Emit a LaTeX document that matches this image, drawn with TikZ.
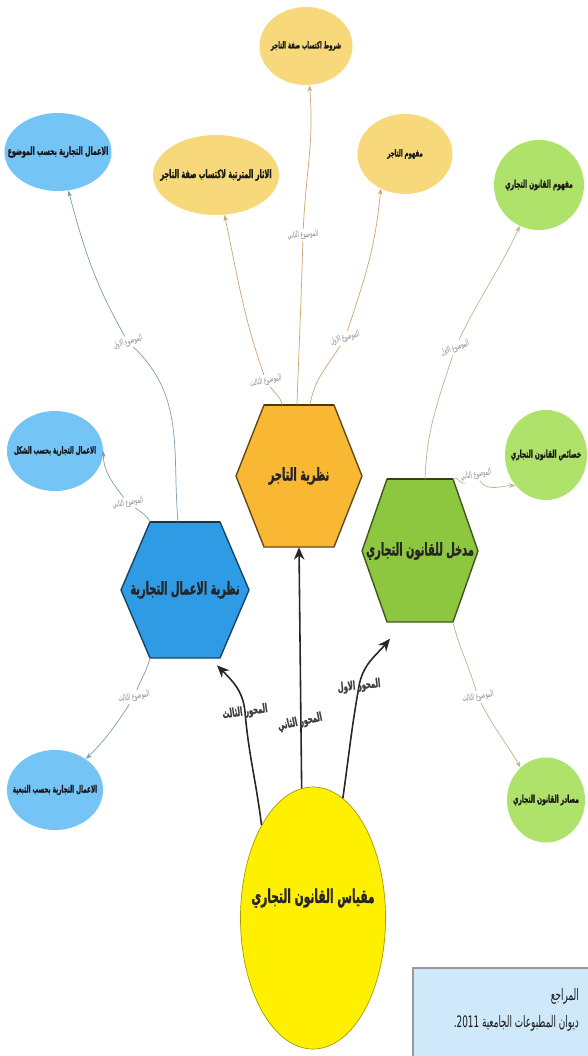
\documentclass[tikz,border=0pt]{standalone}
\usepackage{fontspec}
\usepackage{xcolor}
\usepackage{tikz}
\usetikzlibrary{shapes,arrows.meta,calc}
\newfontfamily\arabicfont[Script=Arabic,FakeStretch=0.56,BoldFeatures={FakeStretch=0.56,FakeBold=1.2}]{DejaVu Sans}
\TeXXeTstate=1
\newcommand{\rtl}[1]{\beginR #1\endR}
\newcommand{\rtlbox}[1]{\makebox[0pt]{\beginR #1\endR}}

\definecolor{hexBlue}{HTML}{2F9BE5}
\definecolor{hexOrange}{HTML}{F9B834}
\definecolor{hexGreen}{HTML}{8DC63F}
\definecolor{leafBlue}{HTML}{74C4F5}
\definecolor{leafYellow}{HTML}{F7D97C}
\definecolor{leafGreen}{HTML}{AEE26B}
\definecolor{lineBlue}{HTML}{7E9CB5}
\definecolor{lineOrange}{HTML}{CFA574}
\definecolor{lineGreen}{HTML}{BDB58C}
\definecolor{moduleYellow}{HTML}{FFF000}
\definecolor{boxBlue}{HTML}{CFE8FA}

\tikzstyle{tsHexText} = [
    text=black!85,
    font=\arabicfont\bfseries\fontsize{10}{12}\selectfont,
    inner sep=0pt
]
\tikzstyle{tsTitle} = [
    tsHexText,
    font=\arabicfont\bfseries\fontsize{10.8}{13}\selectfont
]
\tikzstyle{tsHexBorder} = [
    line width=0.8pt,
    line join=round
]
\tikzstyle{tsLeaf} = [
    ellipse,
    draw=none,
    inner sep=0pt,
    text=black!90,
    font=\arabicfont\bfseries\fontsize{6}{7}\selectfont
]
\tikzstyle{tsTopic} = [
    text=black!45,
    inner sep=0.8pt,
    font=\arabicfont\fontsize{5}{6}\selectfont
]
\tikzstyle{tsAxis} = [
    text=black!75,
    inner sep=0pt,
    font=\arabicfont\bfseries\fontsize{7}{8}\selectfont
]
\tikzstyle{tsRefText} = [
    anchor=east,
    text=black!90,
    font=\arabicfont\fontsize{9}{10}\selectfont
]
\tikzstyle{tsMainArrow} = [
    draw=black!85,
    line width=0.9pt,
    -{Stealth[length=7pt,width=6pt]}
]
\tikzstyle{tsLeafArrow} = [
    line width=0.4pt,
    -{Stealth[length=3.5pt,width=2.6pt]}
]

\begin{document}
\begin{tikzpicture}[x=0.2mm, y=0.2mm]

        \useasboundingbox (0,0) rectangle (588,-1056);
        \fill[white] (0,0) rectangle (588,-1056);
        \clip (0,0) rectangle (588,-1056);

        \filldraw[fill=hexBlue, draw=hexBlue!45!black, tsHexBorder]
            (121,-590) -- (150,-522) -- (220,-522) -- (249,-590) -- (220,-658) -- (150,-658) -- cycle;
        \draw[hexBlue!35!black, line width=1.6pt] (150,-522) -- (220,-522);
        \filldraw[fill=hexOrange, draw=hexOrange!40!black, tsHexBorder]
            (236,-476) -- (264,-405) -- (334,-405) -- (362,-476) -- (334,-547) -- (264,-547) -- cycle;
        \draw[hexOrange!30!black, line width=1.6pt] (264,-405) -- (334,-405);
        \filldraw[fill=hexGreen, draw=hexGreen!45!black, tsHexBorder]
            (362,-551) -- (387,-479) -- (453,-479) -- (478,-551) -- (453,-622) -- (387,-622) -- cycle;
        \draw[hexGreen!35!black, line width=1.6pt] (387,-479) -- (453,-479);

        \node[tsHexText, minimum width=25.6mm, minimum height=27.2mm] (acts) at (185,-590) {\rtl{نظرية الاعمال التجارية}};
        \node[tsHexText, minimum width=25.2mm, minimum height=28.4mm] (trader) at (299,-476) {\rtl{نظرية التاجر}};
        \node[tsHexText, minimum width=23.2mm, minimum height=28.6mm] (intro) at (420,-551) {\rtl{مدخل للقانون التجاري}};

        \node[  ellipse,
                fill=moduleYellow,
                draw=moduleYellow!65!black,
                line width=0.4pt,
                minimum width=29mm,
                minimum height=52.4mm,
                inner sep=0pt] (module) at (313,-918) { };
        \node[tsTitle] (moduletitle) at (313,-898) {\rtl{مقياس القانون التجاري}};

        \node[tsLeaf, fill=leafBlue, minimum width=21.4mm, minimum height=15.6mm] (bysubject) at (58,-152) {\fontsize{6.4}{7}\selectfont\rtlbox{الاعمال التجارية بحسب الموضوع}};
        \node[tsLeaf, fill=leafBlue, minimum width=19.2mm, minimum height=16mm] (byform) at (55,-451) {\fontsize{5.6}{7}\selectfont\rtlbox{الاعمال التجارية بحسب الشكل}};
        \node[tsLeaf, fill=leafBlue, minimum width=19.2mm, minimum height=16mm] (bydependence) at (55,-790) {\fontsize{5.8}{7}\selectfont\rtlbox{الاعمال التجارية بحسب التبعية}};
        \node[tsLeaf, fill=leafYellow, minimum width=18.6mm, minimum height=15.6mm] (conditions) at (306,-46) {\fontsize{5.4}{7}\selectfont\rtlbox{شروط اكتساب صفة التاجر}};
        \node[tsLeaf, fill=leafYellow, minimum width=25.2mm, minimum height=16mm] (effects) at (216,-175) {\fontsize{6.7}{7}\selectfont\rtlbox{الاثار المترتبة لاكتساب صفة التاجر}};
        \node[tsLeaf, fill=leafYellow, minimum width=19mm, minimum height=16mm] (traderconcept) at (405,-154) {\fontsize{5.5}{7}\selectfont\rtlbox{مفهوم التاجر}};
        \node[tsLeaf, fill=leafGreen, minimum width=18mm, minimum height=18mm] (lawconcept) at (539,-185) {\rtlbox{مفهوم القانون التجاري}};
        \node[tsLeaf, fill=leafGreen, minimum width=16.4mm, minimum height=18mm] (features) at (546,-455) {\rtlbox{خصائص القانون التجاري}};
        \node[tsLeaf, fill=leafGreen, minimum width=15.6mm, minimum height=17mm] (sources) at (546,-800) {\rtlbox{مصادر القانون التجاري}};

        \node[tsTopic, rotate=15] (lblsubject) at (128,-342) {\rtl{الموضوع الاول}};
        \node[tsTopic, rotate=10] (lblform) at (128,-503) {\rtl{الموضوع الثاني}};
        \node[tsTopic, rotate=10] (lbldepend) at (134,-697) {\rtl{الموضوع الثالث}};
        \node[tsTopic, rotate=5] (lblcond) at (303,-235) {\rtl{الموضوع الثاني}};
        \node[tsTopic, rotate=12] (lbleffects) at (266,-381) {\rtl{الموضوع الثالث}};
        \node[tsTopic, rotate=15] (lblconcept) at (345,-338) {\rtl{الموضوع الاول}};
        \node[tsTopic, rotate=20] (lbllaw) at (455,-348) {\rtl{الموضوع الاول}};
        \node[tsTopic, rotate=10] (lblfeat) at (476,-475) {\rtl{الموضوع الثاني}};
        \node[tsTopic, rotate=10] (lblsources) at (478,-697) {\rtl{الموضوع الثالث}};

        \draw[tsLeafArrow, lineBlue] ($(acts.north)+(-7,0)$) to[out=95,in=-45] (lblsubject) to[out=118,in=-75] (bysubject);
        \draw[tsLeafArrow, lineBlue] ($(acts.north)+(-35,0)$) to[out=120,in=-40] (lblform) to[out=125,in=-90] (byform.east);
        \draw[tsLeafArrow, lineBlue] ($(acts.south)+(-35,0)$) to[out=-105,in=65] (lbldepend) to[out=-125,in=45] (bydependence);
        \draw[tsLeafArrow, lineOrange] ($(trader.north)+(-2,0)$) to[out=88,in=-92] (lblcond) to[out=87,in=-85] (conditions);
        \draw[tsLeafArrow, lineOrange] ($(trader.north)+(-17,0)$) to[out=100,in=-60] (lbleffects) to[out=108,in=-78] (effects);
        \draw[tsLeafArrow, lineOrange] ($(trader.north)+(11,0)$) to[out=80,in=-125] (lblconcept) to[out=70,in=-95] (traderconcept.235);
        \draw[tsLeafArrow, lineGreen] ($(intro.north)+(5,0)$) to[out=88,in=-110] (lbllaw) to[out=62,in=-115] (lawconcept.245);
        \draw[tsLeafArrow, lineGreen] ($(intro.north)+(33,0)$) to[out=60,in=-150] (lblfeat) to[out=-60,in=180] (features.225);
        \draw[tsLeafArrow, lineGreen] ($(intro.south)+(33,0)$) to[out=-75,in=105] (lblsources) to[out=-65,in=120] (sources.128);

        \coordinate (axisthird) at (245,-712);
        \coordinate (axissecond) at (300,-722);
        \coordinate (axisfirst) at (359,-686);

        \draw[tsMainArrow] (module.119) to[out=97,in=-85] (axisthird) to[out=95,in=-45] ($(acts.south)+(32,-7)$);
        \draw[tsMainArrow] (module.95) -- (trader.south);
        \draw[tsMainArrow] (module.76) to[out=82,in=-100] (axisfirst) to[out=80,in=-130] ($(intro.south)+(-30,-16)$);

        \node[tsAxis, rotate=8] (axisthirdlabel) at (axisthird) {\rtl{المحور الثالث}};
        \node[tsAxis, rotate=12] (axissecondlabel) at (axissecond) {\rtl{المحور الثاني}};
        \node[tsAxis, rotate=6] (axisfirstlabel) at (axisfirst) {\rtl{المحور الاول}};

        \fill[boxBlue] (413,-968) rectangle (600,-1070);
        \draw[black!40, line width=1.2pt] (413,-1070) -- (413,-968) -- (600,-968);
        \node[tsRefText] (refstitle) at (585,-996) {\rtl{المراجع}};
        \node[tsRefText] (refsline) at (585,-1023) {\rtl{ديوان المطبوعات الجامعية \beginL 2011.\endL}};

\end{tikzpicture}
\end{document}
